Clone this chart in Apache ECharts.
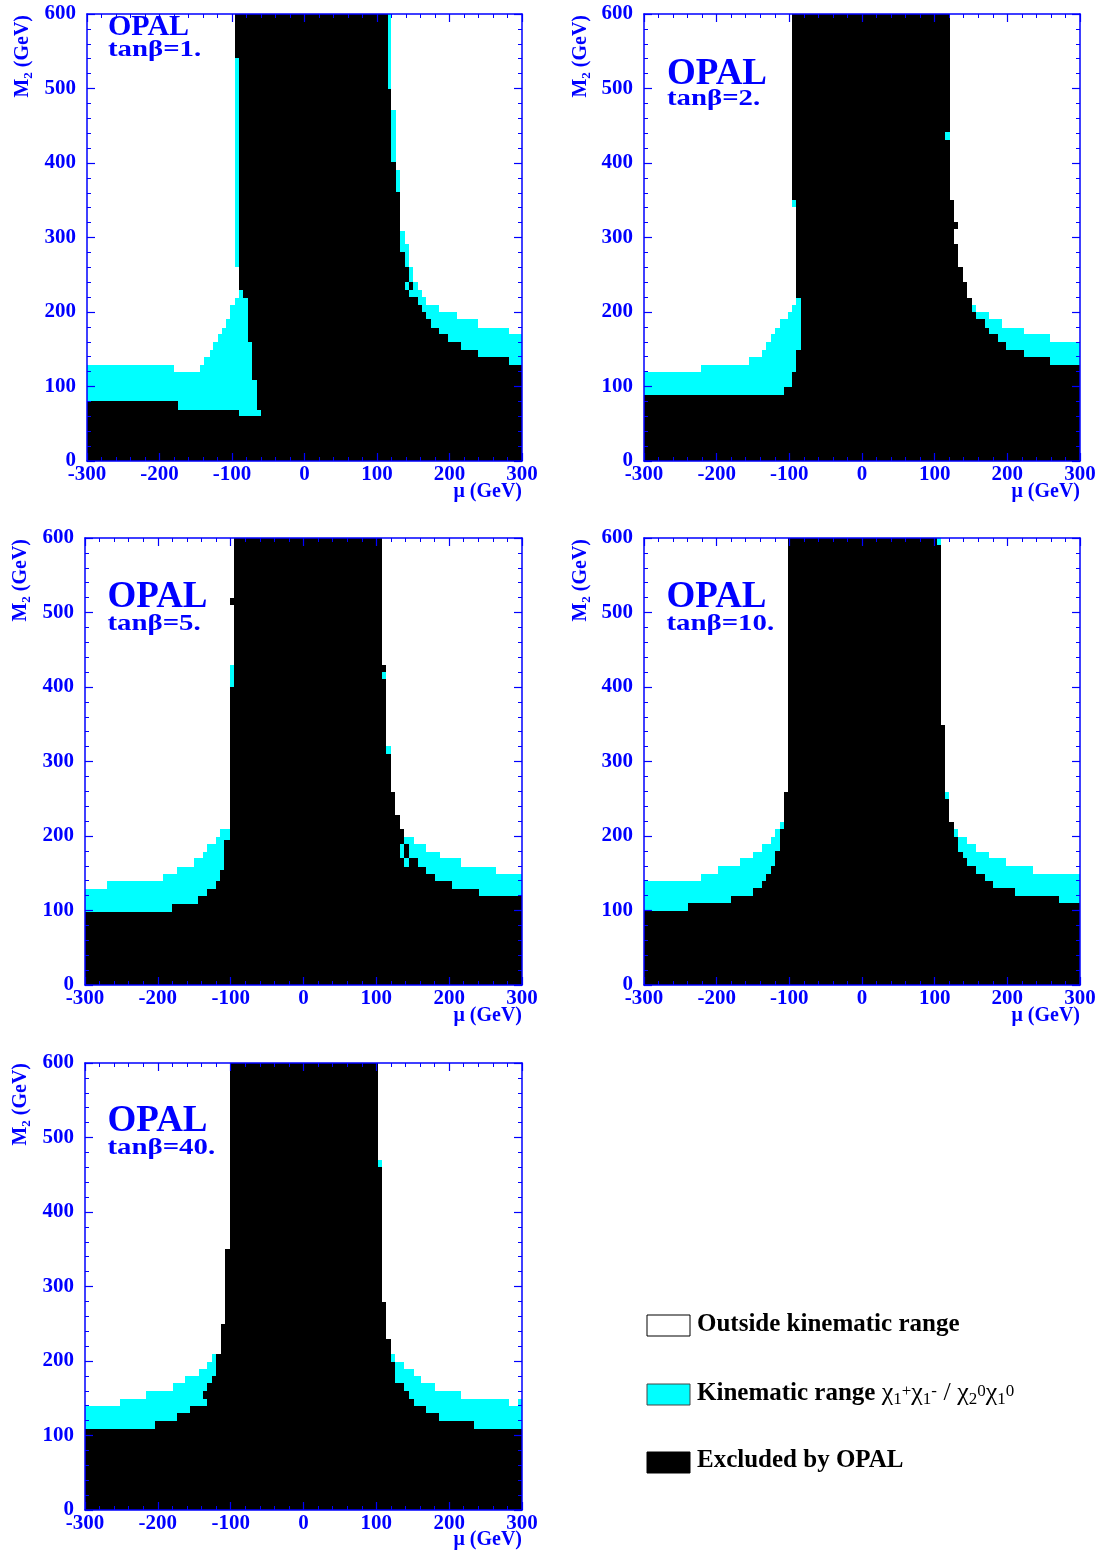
<!DOCTYPE html>
<html><head><meta charset="utf-8">
<script src="https://cdn.jsdelivr.net/npm/echarts@6/dist/echarts.min.js"></script>
<style>html,body{margin:0;padding:0;background:#fff}#c{width:1105px;height:1553px}</style>
</head><body><div id="c"></div>
<script>
// ---- data: rectangles [mu_from, mu_to, M2_from, M2_to] (GeV) ----
const muRange = [-300, 300];
const m2Range = [0, 600];
const tanBetaLabels = ['1.', '2.', '5.', '10.', '40.'];
const legendLabels = ['Outside kinematic range', 'Kinematic range', 'Excluded by OPAL'];

const black1 = [
[-300,-174,0,80],[-174,-89.9,0,69],[-95.4,-89.9,541,600],[-89.9,-59.5,0,60],
[-89.9,-84.4,230,600],[-84.4,-77.5,219,600],[-77.5,-72,160,600],[-72,-65.1,109,600],
[-65.1,-59.5,69,600],[-59.5,114.7,0,600],[114.7,119.8,0,500],[119.8,126.7,0,401],
[126.7,131.7,0,361],[131.7,138.6,0,281],[138.6,144.1,0,230],[138.6,144.1,240,260],
[144.1,149.7,0,220],[144.1,149.7,230,240],[149.7,156,0,220],[156,162,0,210],
[162,167.6,0,200],[167.6,174.9,0,190],[174.9,186,0,179],[186,198.4,0,170],
[198.4,216.3,0,160],[216.3,239.3,0,149],[239.3,282.5,0,140],[282.5,300,0,129]
];
const cyan1 = [
[-300,-179.5,80,129],[-179.5,-174,80,120],[-174,-143.7,69,120],[-143.7,-138,69,129],
[-138,-131,69,140],[-131,-125.7,69,149],[-125.7,-120,69,160],[-120,-113.3,69,170],
[-113.3,-107.8,69,178],[-107.8,-102.3,69,190],[-102.3,-95.4,69,210],[-95.4,-89.9,69,219],
[-95.4,-89.9,260,541],[-89.9,-84.4,60,230],[-84.4,-77.5,60,219],[-77.5,-72,60,160],
[-72,-65.1,60,109],[-65.1,-59.5,60,69],[114.7,119.8,500,600],[119.8,126.7,401,471],
[126.7,131.7,361,390],[131.7,138.6,281,309],[138.6,144.1,230,240],[138.6,144.1,260,291],
[144.1,149.7,220,230],[144.1,149.7,240,260],[149.7,156,220,240],[156,162,210,230],
[162,167.6,200,220],[167.6,174.9,190,210],[174.9,186,179,210],[186,198.4,170,200],
[198.4,210.3,160,200],[210.3,216.3,160,190],[216.3,239.3,149,190],[239.3,282.5,140,179],
[282.5,300,129,170]
];

const black2 = [
[-300,-107.8,0,89],[-107.8,-95.9,0,100],[-95.9,-90.4,0,120],[-95.9,-90.4,350,600],
[-90.4,-83.5,0,149],[-90.4,-83.5,219,600],[-83.5,114.2,0,600],[114.2,121.1,0,431],
[114.2,121.1,441,600],[121.1,126.6,0,350],[126.6,131.7,0,291],[126.6,131.7,311,321],
[131.7,138.5,0,260],[138.5,144,0,240],[144,150.9,0,219],[150.9,156.4,0,200],
[156.4,169.3,0,190],[169.3,174.8,0,179],[174.8,187.2,0,170],[187.2,198.2,0,160],
[198.2,223,0,149],[223,258.7,0,140],[258.7,300,0,129]
];
const cyan2 = [
[-300,-222,89,120],[-222,-156,89,129],[-156,-138.1,89,140],[-138.1,-132.6,89,149],
[-132.6,-125.7,89,160],[-125.7,-120.2,89,170],[-120.2,-113.3,89,178],[-113.3,-107.8,89,190],
[-107.8,-102.3,100,190],[-102.3,-95.9,100,200],[-95.9,-90.4,120,210],[-95.9,-90.4,341,350],
[-90.4,-83.5,149,219],[114.2,121.1,431,441],[150.9,156.4,200,210],[156.4,169.3,190,200],
[169.3,174.8,179,200],[174.8,187.2,170,190],[187.2,192.7,160,190],[192.7,198.2,160,179],
[198.2,223,149,179],[223,258.7,140,170],[258.7,300,129,160]
];

const black3 = [
[-300,-180.9,0,98.5],[-180.9,-145.2,0,109],[-145.2,-132.8,0,119],[-132.8,-120,0,129],
[-120,-114.5,0,139],[-114.5,-108.5,0,154],[-108.5,-101.6,0,194],[-101.6,-95.2,0,399.5],
[-101.6,-95.2,510,520],[-95.2,107.6,0,600],[107.6,113.1,0,410.7],[107.6,113.1,419.6,430],
[113.1,120,0,309.9],[120,125.9,0,259.7],[125.9,131.9,0,228.4],[131.9,138.3,0,170],
[131.9,138.3,189,209.6],[138.3,144.7,0,159],[138.3,144.7,170,189],[144.7,151.1,0,170],
[151.1,156.6,0,170],[156.6,168.5,0,159],[168.5,180.9,0,149],[180.9,204.3,0,139],
[204.3,240.4,0,129],[240.4,300,0,119]
];
const cyan3 = [
[-300,-270.2,98.5,129],[-270.2,-193.3,98.5,139],[-193.3,-180.9,98.5,149],[-180.9,-174,109,149],
[-174,-150.2,109,159],[-150.2,-145.2,109,170],[-145.2,-138.3,119,170],[-138.3,-132.8,119,179],
[-132.8,-120,129,189],[-120,-114.5,139,199],[-114.5,-108.5,154,209],[-108.5,-101.6,194,209],
[-101.6,-95.2,399.5,430],[107.6,113.1,410.7,419.6],[113.1,120,309.9,320.2],[131.9,138.3,170,189],
[138.3,144.7,159,170],[138.3,144.7,189,199],[144.7,151.1,170,199],[151.1,156.6,170,189],
[156.6,168.5,159,189],[168.5,180.9,149,179],[180.9,186.9,139,179],[186.9,204.3,139,170],
[204.3,216.6,129,170],[216.6,240.4,129,159],[240.4,264.7,119,159],[264.7,300,119,149]
];

const black4 = [
[-300,-239.4,0,99.4],[-239.4,-180.7,0,110.6],[-180.7,-150,0,120],[-150,-137.6,0,129.9],
[-137.6,-132.6,0,139.7],[-132.6,-125.7,0,149.1],[-125.7,-119.7,0,159.9],[-119.7,-113.3,0,180.5],
[-113.3,-107.8,0,209.6],[-107.8,-101.8,0,259.7],[-101.8,102.8,0,600],[102.8,108.3,0,590],
[108.3,114.2,0,349.3],[114.2,120.2,0,249.9],[120.2,126.6,0,219.4],[126.6,131.7,0,199.3],
[131.7,138.5,0,179.1],[138.5,144,0,170.2],[144,156.9,0,159.9],[156.9,169.3,0,149.1],
[169.3,180.7,0,139.7],[180.7,210.6,0,129.9],[210.6,271.1,0,120],[271.1,300,0,110.6]
];
const cyan4 = [
[-300,-239.4,99.4,139.7],[-239.4,-222,110.6,139.7],[-222,-198.2,110.6,149.1],[-198.2,-180.7,110.6,159.9],
[-180.7,-168.3,120,159.9],[-168.3,-150,120,170.2],[-150,-137.6,129.9,179.1],[-137.6,-132.6,139.7,189.4],
[-132.6,-125.7,149.1,189.4],[-125.7,-119.7,159.9,199.3],[-119.7,-113.3,180.5,209.6],[-113.3,-107.8,209.6,219.4],
[102.8,108.3,590,600],[114.2,120.2,249.9,259.7],[126.6,131.7,199.3,209.6],[131.7,138.5,179.1,199.3],
[138.5,144,170.2,199.3],[144,156.9,159.9,189.4],[156.9,169.3,149.1,179.1],[169.3,175.2,139.7,179.1],
[175.2,180.7,139.7,170.2],[180.7,197.7,129.9,170.2],[197.7,210.6,129.9,159.9],[210.6,234.9,120,159.9],
[234.9,271.1,120,149.1],[271.1,300,110.6,149.1]
];

const black5 = [
[-300,-203.8,0,108.6],[-203.8,-174,0,119.8],[-174,-155.7,0,129.6],[-155.7,-137.8,0,139.5],
[-137.8,-132.3,0,139.5],[-137.8,-132.3,148.9,159.6],[-132.3,-125.5,0,169.9],[-125.5,-120,0,179.7],
[-120,-112.6,0,209.2],[-112.6,-107.1,0,249.4],[-107.1,-101.6,0,350],[-101.6,102.1,0,600],
[102.1,107.6,0,460.4],[107.6,113.1,0,279.4],[113.1,120,0,230.2],[120,125.9,0,198.9],
[125.9,138.3,0,169.9],[138.3,144.3,0,159.6],[144.3,151.1,0,148.9],[151.1,168.5,0,139.5],
[168.5,186.4,0,129.6],[186.4,234.5,0,119.8],[234.5,300,0,108.6]
];
const cyan5 = [
[-300,-251.9,108.6,139.5],[-251.9,-216.2,108.6,148.9],[-216.2,-203.8,108.6,159.6],[-203.8,-178.6,119.8,159.6],
[-178.6,-174,119.8,169.9],[-174,-162.6,129.6,169.9],[-162.6,-155.7,129.6,179.7],[-155.7,-143.3,139.5,179.7],
[-143.3,-137.8,139.5,189.1],[-137.8,-132.3,139.5,148.9],[-137.8,-132.3,159.6,189.1],[-132.3,-125.5,169.9,198.9],
[-125.5,-120,179.7,209.2],[102.1,107.6,460.4,469.4],[120,125.9,198.9,209.2],[125.9,138.3,169.9,198.9],
[138.3,144.3,159.6,189.1],[144.3,151.1,148.9,189.1],[151.1,161.2,139.5,179.7],[161.2,168.5,139.5,169.9],
[168.5,180.9,129.6,169.9],[180.9,186.4,129.6,159.6],[186.4,216.6,119.8,159.6],[216.6,234.5,119.8,148.9],
[234.5,282.6,108.6,148.9],[282.6,294,108.6,139.5],[294,300,108.6,148.9]
];

// ---- layout / style ----
const BLUE = '#0000ff';
const CYAN = '#00ffff';
const SERIF = "'Liberation Serif','Times New Roman',serif";

const panels = [
  {black: black1, cyan: cyan1, grid: {left: 87, top: 14, width: 435, height: 447},
   opal: {x: 108, base: 37, size: 30}, tan: {x: 108, base: 58}, m2t: [23, 15], mut: [522, 492]},
  {black: black2, cyan: cyan2, grid: {left: 644, top: 14, width: 436, height: 447},
   opal: {x: 667, base: 87, size: 37}, tan: {x: 667, base: 107}, m2t: [581, 15], mut: [1080, 492]},
  {black: black3, cyan: cyan3, grid: {left: 85, top: 538, width: 437, height: 447},
   opal: {x: 107.5, base: 610, size: 37}, tan: {x: 107.5, base: 632}, m2t: [21, 539], mut: [522, 1016]},
  {black: black4, cyan: cyan4, grid: {left: 644, top: 538, width: 436, height: 447},
   opal: {x: 666.5, base: 610, size: 37}, tan: {x: 666.5, base: 632}, m2t: [581, 539], mut: [1080, 1016]},
  {black: black5, cyan: cyan5, grid: {left: 85, top: 1063, width: 437, height: 447},
   opal: {x: 107.5, base: 1134, size: 37}, tan: {x: 107.5, base: 1156}, m2t: [21, 1063], mut: [522, 1540]}
];

function rectRender(color) {
  return function (params, api) {
    const a = api.coord([api.value(0), api.value(2)]);
    const b = api.coord([api.value(1), api.value(3)]);
    const x0 = Math.round(Math.min(a[0], b[0])), x1 = Math.round(Math.max(a[0], b[0]));
    const y0 = Math.round(Math.min(a[1], b[1])), y1 = Math.round(Math.max(a[1], b[1]));
    return {type: 'rect', shape: {x: x0, y: y0, width: x1 - x0, height: y1 - y0},
            style: {fill: color, stroke: null}};
  };
}

const grids = [], xAxes = [], yAxes = [], series = [], graphics = [];
const tickStyle = {color: BLUE, width: 1.2};
const TAN_SIZE = 24;
panels.forEach((p, i) => {
  grids.push(Object.assign({containLabel: false, show: false}, p.grid));
  ['bottom', 'top'].forEach(pos => {
    xAxes.push({
      type: 'value', gridIndex: i, position: pos, min: muRange[0], max: muRange[1], interval: 100, z: 10,
      axisLine: {show: true, onZero: false, lineStyle: {color: BLUE, width: 1.5}},
      axisTick: {show: true, inside: true, length: 8, lineStyle: tickStyle},
      minorTick: {show: true, splitNumber: 5, length: 4, lineStyle: {color: BLUE, width: 1}},
      splitLine: {show: false}, minorSplitLine: {show: false},
      axisLabel: {show: pos === 'bottom', color: BLUE, fontFamily: SERIF, fontWeight: 'bold', fontSize: 21, margin: 3}
    });
  });
  ['left', 'right'].forEach(pos => {
    yAxes.push({
      type: 'value', gridIndex: i, position: pos, min: m2Range[0], max: m2Range[1], interval: 100, z: 10,
      axisLine: {show: true, onZero: false, lineStyle: {color: BLUE, width: 1.5}},
      axisTick: {show: true, inside: true, length: 8, lineStyle: tickStyle},
      minorTick: {show: true, splitNumber: 5, length: 4, lineStyle: {color: BLUE, width: 1}},
      splitLine: {show: false}, minorSplitLine: {show: false},
      axisLabel: {show: pos === 'left', color: BLUE, fontFamily: SERIF, fontWeight: 'bold', fontSize: 21, margin: 11}
    });
  });
  [['Excluded by OPAL', p.black, '#000000'], ['Kinematic range', p.cyan, CYAN]].forEach(([name, data, col]) => {
    series.push({
      type: 'custom', name: name, xAxisIndex: 2 * i, yAxisIndex: 2 * i, data: data,
      dimensions: ['mu0', 'mu1', 'm0', 'm1'], encode: {x: [0, 1], y: [2, 3]},
      renderItem: rectRender(col), clip: true, silent: true, animation: false, z: 2
    });
  });
  // panel texts
  graphics.push({type: 'text', x: p.opal.x, y: p.opal.base - 0.34 * p.opal.size, z: 20,
    style: {text: 'OPAL', fill: BLUE, font: 'bold ' + p.opal.size + 'px ' + SERIF, align: 'left', verticalAlign: 'middle'}});
  graphics.push({type: 'text', x: p.tan.x, y: p.tan.base - 0.34 * TAN_SIZE, scaleX: 1.2, z: 20,
    style: {text: 'tanβ=' + tanBetaLabels[i], fill: BLUE, font: 'bold ' + TAN_SIZE + 'px ' + SERIF, align: 'left', verticalAlign: 'middle'}});
  graphics.push({type: 'text', x: p.mut[0], y: p.mut[1], z: 20,
    style: {text: 'μ (GeV)', fill: BLUE, font: 'bold 20px ' + SERIF, align: 'right', verticalAlign: 'middle'}});
  graphics.push({type: 'text', x: p.m2t[0], y: p.m2t[1], rotation: Math.PI / 2, z: 20,
    style: {text: '{a|M}{s|2}{a| (GeV)}', align: 'right', verticalAlign: 'middle',
      rich: {a: {fill: BLUE, fontFamily: SERIF, fontWeight: 'bold', fontSize: 20, lineHeight: 24},
             s: {fill: BLUE, fontFamily: SERIF, fontWeight: 'bold', fontSize: 13, lineHeight: 13, verticalAlign: 'bottom'}}}});
});

// legend
const legBoxes = [[1315, '#ffffff', '#000'], [1384, CYAN, '#444'], [1452, '#000000', '#000']];
legBoxes.forEach(([y, fill, stroke]) => {
  graphics.push({type: 'rect', shape: {x: 647, y: y, width: 43, height: 21}, z: 20,
    style: {fill: fill, stroke: stroke, lineWidth: 1}});
});
const legMid = [1325, 1393.5, 1461];
graphics.push({type: 'text', x: 697, y: legMid[0], z: 20,
  style: {text: legendLabels[0], fill: '#000', font: 'bold 25px ' + SERIF, align: 'left', verticalAlign: 'middle'}});
graphics.push({type: 'text', x: 697, y: legMid[1], z: 20,
  style: {text: '{b|' + legendLabels[1] + ' }{g|χ}{s|1}{p|+}{g|χ}{s|1}{p|-}{g| / χ}{s|2}{p|0}{g|χ}{s|1}{p|0}',
    align: 'left', verticalAlign: 'middle',
    rich: {b: {fill: '#000', fontFamily: SERIF, fontWeight: 'bold', fontSize: 25, lineHeight: 30},
           g: {fill: '#000', fontFamily: SERIF, fontSize: 26, lineHeight: 30},
           s: {fill: '#000', fontFamily: SERIF, fontSize: 17, lineHeight: 16, verticalAlign: 'bottom'},
           p: {fill: '#000', fontFamily: SERIF, fontSize: 17, lineHeight: 20, verticalAlign: 'top', padding: [5, 0, 0, 0]}}}});
graphics.push({type: 'text', x: 697, y: legMid[2], z: 20,
  style: {text: legendLabels[2], fill: '#000', font: 'bold 25px ' + SERIF, align: 'left', verticalAlign: 'middle'}});

const chart = echarts.init(document.getElementById('c'), null, {renderer: 'canvas'});
chart.setOption({
  animation: false,
  backgroundColor: '#ffffff',
  grid: grids, xAxis: xAxes, yAxis: yAxes, series: series,
  graphic: graphics
});
</script></body></html>
